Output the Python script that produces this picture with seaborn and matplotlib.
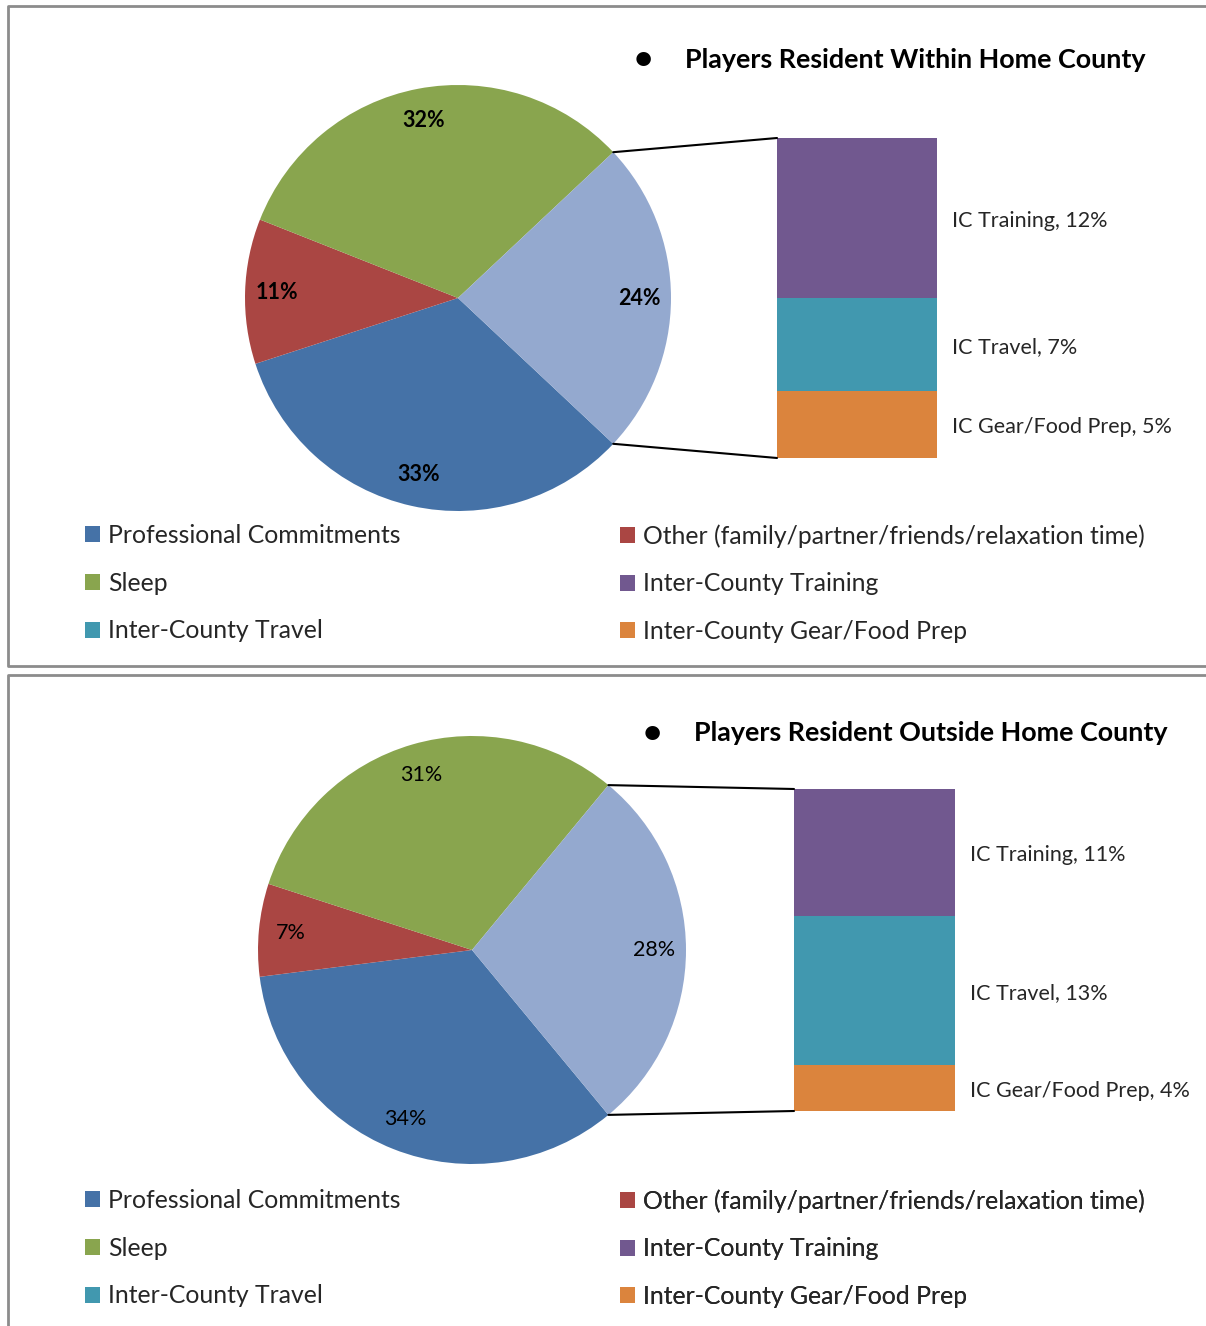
import matplotlib
matplotlib.use('Agg')
import math
import matplotlib.pyplot as plt
from matplotlib.patches import Patch, ConnectionPatch
import seaborn as sns

W, H = 1206, 1326
OUTPUT = 'out.png'

# data
pie_names = ['Professional Commitments', 'Other (family/partner/friends/relaxation time)', 'Sleep']
bar_names = ['IC Training', 'IC Travel', 'IC Gear/Food Prep']
legend_names = ['Professional Commitments', 'Sleep', 'Inter-County Travel',
                'Other (family/partner/friends/relaxation time)', 'Inter-County Training',
                'Inter-County Gear/Food Prep']

within_title = 'Players Resident Within Home County'
within_pie = [33, 11, 32]
within_bar = [12, 7, 5]

outside_title = 'Players Resident Outside Home County'
outside_pie = [34, 7, 31]
outside_bar = [11, 13, 4]

sns.set_theme(style='white')
plt.rcParams['font.family'] = ['Lato', 'DejaVu Sans']

pal = sns.color_palette(['#4572A7', '#AA4643', '#89A54E', '#94A9CF',
                         '#71588F', '#4198AF', '#DB843D'])
pie_colors = pal[:4]
bar_colors = pal[4:]
legend_colors = [pal[0], pal[2], pal[5], pal[1], pal[4], pal[6]]


def fx(x):
    return x / W


def fy(y):
    return 1 - y / H


def draw_panel(fig, bg, title, pie_vals, bar_vals, bold, g):
    ic = sum(bar_vals)
    vals = pie_vals + [ic]
    half = ic * 3.6 / 2

    # pie
    cx, cy, r = g['pie']
    ax_pie = fig.add_axes([fx(cx - r), fy(cy + r), 2 * r / W, 2 * r / H])
    ax_pie.pie(vals, colors=pie_colors, startangle=-half, counterclock=False,
               autopct='%1.0f%%', pctdistance=0.85, radius=1,
               wedgeprops=dict(linewidth=0),
               textprops=dict(fontsize=15.5, fontweight='bold' if bold else 'normal', color='black'))
    ax_pie.set_xlim(-1, 1)
    ax_pie.set_ylim(-1, 1)
    ax_pie.set_aspect('auto')

    # stacked bar
    x0, x1, y0, y1 = g['bar']
    ax_bar = fig.add_axes([fx(x0), fy(y1), (x1 - x0) / W, (y1 - y0) / H])
    bottom = 0
    for name, v, c in reversed(list(zip(bar_names, bar_vals, bar_colors))):
        ax_bar.bar(0, v, bottom=bottom, width=1, color=c, linewidth=0)
        ax_bar.annotate(f'{name}, {v}%', xy=(0.5, bottom + v / 2), xytext=(11, -2),
                        textcoords='offset points', va='center', ha='left',
                        fontsize=15.5, annotation_clip=False)
        bottom += v
    ax_bar.set_xlim(-0.5, 0.5)
    ax_bar.set_ylim(0, ic)
    ax_bar.axis('off')

    # connector lines
    for sign, yb in [(1, ic), (-1, 0)]:
        a = math.radians(sign * half)
        con = ConnectionPatch(xyA=(math.cos(a), math.sin(a)), coordsA=ax_pie.transData,
                              xyB=(-0.5, yb), coordsB=ax_bar.transData,
                              color='black', linewidth=1.5)
        fig.add_artist(con)

    # title
    bx, tx, ty = g['title']
    bg.text(bx, ty, '\u2022', fontsize=24, fontweight='bold', va='center', ha='center', color='black')
    bg.text(tx, ty, title, fontsize=19.4, fontweight='bold', va='center', ha='left', color='black')

    # legend in two columns
    lx1, lx2, ly = g['legend']
    handles = [Patch(facecolor=c, edgecolor='none') for c in legend_colors]
    for i, lx in enumerate([lx1, lx2]):
        leg = bg.legend(handles[3 * i:3 * i + 3], legend_names[3 * i:3 * i + 3],
                        loc='upper left', bbox_to_anchor=(fx(lx), fy(ly)),
                        bbox_transform=fig.transFigure, frameon=False, fontsize=17.8,
                        handlelength=0.62, handleheight=0.62, handletextpad=0.3,
                        labelspacing=1.0, borderpad=0, borderaxespad=0)
        bg.add_artist(leg)


def main():
    fig = plt.figure(figsize=(W / 100, H / 100), dpi=100)
    bg = fig.add_axes([0, 0, 1, 1])
    bg.set_xlim(0, W)
    bg.set_ylim(H, 0)
    bg.axis('off')

    # panel frames
    bg.plot([1300, 8, 8, 1300], [6, 6, 666, 666], color='#8c8c8c', linewidth=2)
    bg.plot([1300, 8, 8], [675, 675, 1400], color='#8c8c8c', linewidth=2)

    draw_panel(fig, bg, within_title, within_pie, within_bar, True,
               dict(pie=(458, 298, 213), bar=(777, 937, 138, 458),
                    title=(643, 685, 60), legend=(85, 620, 524)))
    draw_panel(fig, bg, outside_title, outside_pie, outside_bar, False,
               dict(pie=(472, 950, 214), bar=(794, 955, 789, 1111),
                    title=(652, 694, 733), legend=(85, 620, 1189)))

    fig.savefig(OUTPUT, dpi=100)


if __name__ == '__main__':
    main()
